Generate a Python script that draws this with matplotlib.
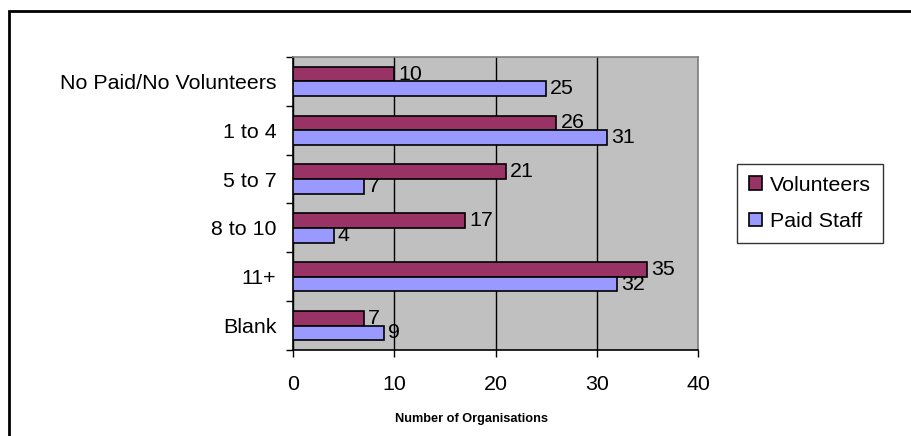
import matplotlib

matplotlib.use("Agg")
import matplotlib.pyplot as plt
import numpy as np
from matplotlib.patches import Rectangle

plt.rcParams["font.family"] = ["Liberation Sans", "DejaVu Sans"]

CATEGORIES = ["No Paid/No Volunteers", "1 to 4", "5 to 7", "8 to 10", "11+", "Blank"]
VOLUNTEERS = [10, 26, 21, 17, 35, 7]
PAID_STAFF = [25, 31, 7, 4, 32, 9]
X_TICKS = [0, 10, 20, 30, 40]

VOL_COLOR = "#993366"
PAID_COLOR = "#9999FF"
W, H = 911, 436
FS = 15.4

fig = plt.figure(figsize=(W / 100, H / 100), dpi=100)
ax = fig.add_axes([293 / W, 1 - 350 / H, (698 - 293) / W, (350 - 57) / H])
ax.set_facecolor("#C0C0C0")

y = np.arange(len(CATEGORIES))
bh = 0.3
ax.barh(y - bh / 2, VOLUNTEERS, height=bh, color=VOL_COLOR, edgecolor="black",
        linewidth=1.2, label="Volunteers", zorder=3)
ax.barh(y + bh / 2, PAID_STAFF, height=bh, color=PAID_COLOR, edgecolor="black",
        linewidth=1.2, label="Paid Staff", zorder=3)
for yi, v in zip(y, VOLUNTEERS):
    ax.annotate(str(v), (v, yi - bh / 2), xytext=(3, 0), textcoords="offset points",
                va="center", ha="left", fontsize=FS)
for yi, v in zip(y, PAID_STAFF):
    ax.annotate(str(v), (v, yi + bh / 2), xytext=(3, 0), textcoords="offset points",
                va="center", ha="left", fontsize=FS)

ax.set_ylim(len(CATEGORIES) - 0.5, -0.5)
ax.set_xlim(0, 40)
ax.set_xticks(X_TICKS)
ax.set_xticklabels([str(t) for t in X_TICKS], fontsize=FS)
ax.tick_params(axis="x", direction="out", length=5, width=1, pad=13)
ax.set_yticks(y)
ax.set_yticklabels(CATEGORIES, fontsize=FS)
ax.tick_params(axis="y", which="major", length=0, pad=12)
ax.set_yticks(np.arange(-0.5, len(CATEGORIES)), minor=True)
ax.tick_params(axis="y", which="minor", direction="out", length=5, width=1)
ax.grid(axis="x", color="black", linewidth=1, zorder=1)
ax.set_axisbelow(True)
for s in ("left", "bottom"):
    ax.spines[s].set_color("black")
    ax.spines[s].set_linewidth(1.2)
for s in ("top", "right"):
    ax.spines[s].set_color("#808080")
    ax.spines[s].set_linewidth(1.2)

fig.text(471 / W, 1 - 419 / H, "Number of Organisations", ha="center", va="center",
         fontsize=9.2, fontweight="bold")

leg = fig.legend(loc="upper left", bbox_to_anchor=(737 / W, 1 - 164 / H),
                 fontsize=FS, frameon=True, fancybox=False, edgecolor="black",
                 handlelength=0.6, handleheight=0.6, handletextpad=0.4,
                 borderpad=0.55, labelspacing=0.8, borderaxespad=0)
leg.get_frame().set_linewidth(1)

fig.patches.append(Rectangle((9 / W, -0.1), 1.2, 1.1 - 11 / H, transform=fig.transFigure,
                             fill=False, edgecolor="black", linewidth=2))

fig.savefig("out.png", dpi=100)
